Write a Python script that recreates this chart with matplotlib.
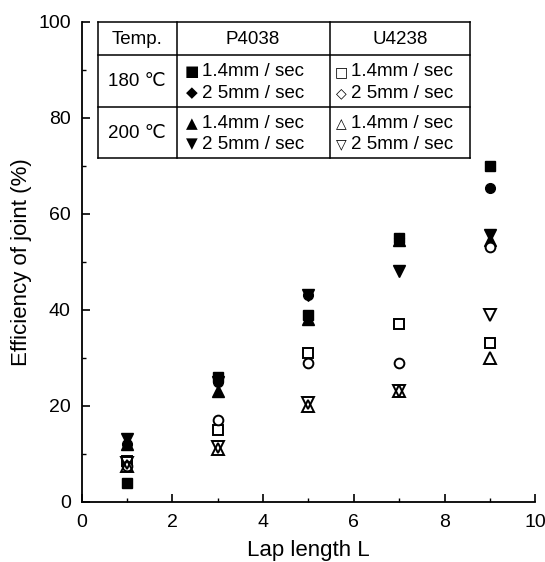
import matplotlib
matplotlib.use("Agg")
import matplotlib.pyplot as plt
from matplotlib.ticker import MultipleLocator

plt.rcParams['font.family'] = ['Liberation Sans', 'DejaVu Sans']

# 数据
lap_length = [1, 3, 5, 7, 9]
p4038_180_14 = [4, 26, 39, 55, 70]
p4038_180_25 = [12, 25, 43, 55, 65.5]
p4038_200_14 = [12, 23, 38, 54.5, 54.5]
p4038_200_25 = [13, 25, 43, 48, 55.5]
u4238_180_14 = [8.5, 15, 31, 37, 33]
u4238_180_25 = [7.5, 17, 29, 29, 53]
u4238_200_14 = [7.5, 11, 20, 23, 30]
u4238_200_25 = [8, 11.5, 20.5, 23, 39]

fig = plt.figure(figsize=(5.45, 5.62), dpi=100)
ax = fig.add_axes([0.150, 0.107, 0.832, 0.854])

ms = 7
ax.plot(lap_length, p4038_180_14, 's', color='black', ms=ms)
ax.plot(lap_length, p4038_180_25, 'o', color='black', ms=ms)
ax.plot(lap_length, p4038_200_14, '^', color='black', ms=ms + 1)
ax.plot(lap_length, p4038_200_25, 'v', color='black', ms=ms + 1)
ax.plot(lap_length, u4238_180_14, 's', mfc='white', mec='black', mew=1.4, ms=ms)
ax.plot(lap_length, u4238_180_25, 'o', mfc='white', mec='black', mew=1.4, ms=ms)
ax.plot(lap_length, u4238_200_14, '^', mfc='none', mec='black', mew=1.4, ms=ms + 1)
ax.plot(lap_length, u4238_200_25, 'v', mfc='none', mec='black', mew=1.4, ms=ms + 1)

ax.set_xlim(0, 10)
ax.set_ylim(0, 100)
ax.xaxis.set_major_locator(MultipleLocator(2))
ax.xaxis.set_minor_locator(MultipleLocator(1))
ax.yaxis.set_major_locator(MultipleLocator(20))
ax.yaxis.set_minor_locator(MultipleLocator(10))
ax.tick_params(which='major', direction='in', length=6, width=1.2, labelsize=14)
ax.tick_params(axis='x', which='major', pad=9)
ax.tick_params(axis='y', which='major', pad=8)
ax.tick_params(which='minor', direction='in', length=3, width=1)
ax.spines['top'].set_visible(False)
ax.spines['right'].set_visible(False)
for s in ['left', 'bottom']:
    ax.spines[s].set_linewidth(1.3)
ax.set_xlabel('Lap length L', fontsize=16, labelpad=6)
ax.set_ylabel('Efficiency of joint (%)', fontsize=16, labelpad=4)

# 图例表格（像素坐标 -> figure 坐标）
W, H = 545, 562
def fx(px):
    return px / W
def fy(py):
    return 1 - py / H

x_edges = [98, 177, 330, 470]
y_edges = [22, 55, 107, 158]
for xe in x_edges:
    fig.add_artist(plt.Line2D([fx(xe), fx(xe)], [fy(y_edges[0]), fy(y_edges[-1])], color='black', lw=1.1))
for ye in y_edges:
    fig.add_artist(plt.Line2D([fx(x_edges[0]), fx(x_edges[-1])], [fy(ye), fy(ye)], color='black', lw=1.1))

tfs = 13.5
fig.text(fx(137), fy(39), 'Temp.', ha='center', va='center', fontsize=tfs)
fig.text(fx(253), fy(39), 'P4038', ha='center', va='center', fontsize=tfs)
fig.text(fx(400), fy(39), 'U4238', ha='center', va='center', fontsize=tfs)
fig.text(fx(137), fy(81), '180 ℃', ha='center', va='center', fontsize=tfs)
fig.text(fx(137), fy(133), '200 ℃', ha='center', va='center', fontsize=tfs)

rows = [
    (72, '■', '□', '1.4mm / sec'),
    (93, '◆', '◇', '2 5mm / sec'),
    (124, '▲', '△', '1.4mm / sec'),
    (144, '▼', '▽', '2 5mm / sec'),
]
for py, sym_p, sym_u, label in rows:
    fig.text(fx(192), fy(py), sym_p, ha='center', va='center', fontsize=11, family='DejaVu Sans')
    fig.text(fx(202), fy(py), label, ha='left', va='center', fontsize=tfs)
    fig.text(fx(341), fy(py), sym_u, ha='center', va='center', fontsize=10, family='DejaVu Sans')
    fig.text(fx(351), fy(py), label, ha='left', va='center', fontsize=tfs)

fig.savefig('out.png', dpi=100)
